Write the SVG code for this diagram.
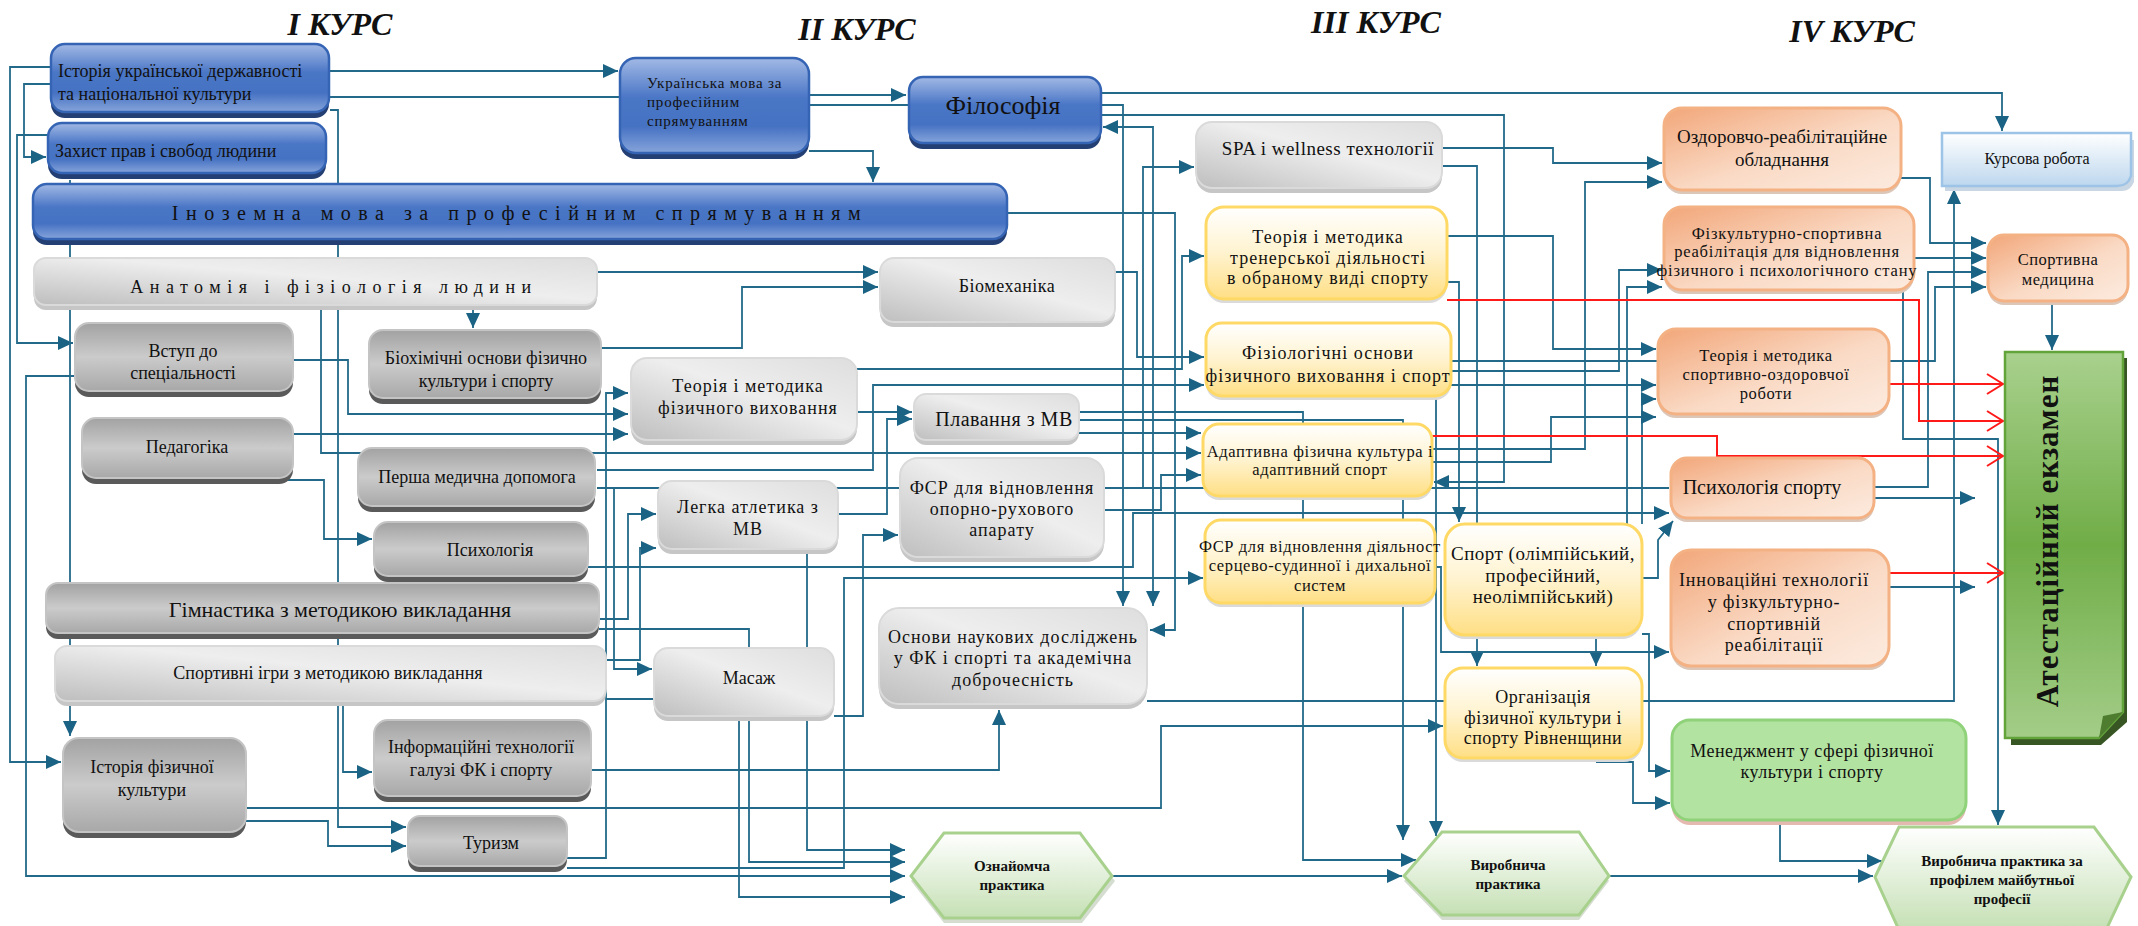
<svg xmlns="http://www.w3.org/2000/svg" width="2138" height="926" viewBox="0 0 2138 926">
<defs>
<style>
.c{fill:none;stroke:#236A8A;stroke-width:1.8}
.r{fill:none;stroke:#FF1A1A;stroke-width:2}
.sB{fill:#243F73}.fB{fill:url(#gB);stroke:#3564B4;stroke-width:2.5}
.sL{fill:#C6C6C6}.fL{fill:url(#gL);stroke:#DADADA;stroke-width:2}
.sD{fill:#5A5A5A}.fD{fill:url(#gD);stroke:#C4C4C4;stroke-width:2}
.sY{fill:#DADADA}.fY{fill:url(#gY);stroke:#FFD966;stroke-width:3}
.sO{fill:#DCC6B8}.fO{fill:url(#gO);stroke:#F4B183;stroke-width:3}
.fG{fill:#B3E3A0;stroke:#8FD27A;stroke-width:3}
.fH{fill:url(#gH);stroke:#A9D18E;stroke-width:3}
.sH{fill:#D5DDD0}
text{font-family:"Liberation Serif","Times New Roman",serif;fill:#111}
.t{font-size:18px;text-anchor:middle}
.l{font-size:18px}
.h{font-size:32px;font-weight:bold;font-style:italic;text-anchor:middle}
.b{font-size:15px;font-weight:bold;text-anchor:middle}
</style>
<linearGradient id="gB" x1="0" y1="0" x2="0" y2="1"><stop offset="0" stop-color="#A2B9E5"/><stop offset="0.42" stop-color="#4A76C6"/><stop offset="0.72" stop-color="#4672C3"/><stop offset="1" stop-color="#86A4DA"/></linearGradient>
<linearGradient id="gL" x1="0" y1="1" x2="1" y2="0"><stop offset="0" stop-color="#BEBEBE"/><stop offset="0.55" stop-color="#EEEEEE"/><stop offset="1" stop-color="#DEDEDE"/></linearGradient>
<linearGradient id="gD" x1="0" y1="0" x2="0" y2="1"><stop offset="0" stop-color="#A2A2A2"/><stop offset="0.5" stop-color="#CBCBCB"/><stop offset="1" stop-color="#A8A8A8"/></linearGradient>
<linearGradient id="gY" x1="0" y1="0" x2="0" y2="1"><stop offset="0" stop-color="#FFFFFF"/><stop offset="0.5" stop-color="#FFF3CF"/><stop offset="1" stop-color="#FFDF85"/></linearGradient>
<linearGradient id="gO" x1="0" y1="0" x2="1" y2="1"><stop offset="0" stop-color="#F2A679"/><stop offset="0.55" stop-color="#FADAC5"/><stop offset="1" stop-color="#FCEBDF"/></linearGradient>
<linearGradient id="gH" x1="0" y1="0" x2="0" y2="1"><stop offset="0" stop-color="#FFFFFF"/><stop offset="1" stop-color="#C5E0B4"/></linearGradient>
<linearGradient id="gA" x1="0" y1="0" x2="0" y2="1"><stop offset="0" stop-color="#A9D18E"/><stop offset="0.5" stop-color="#70AD47"/><stop offset="1" stop-color="#A3CD88"/></linearGradient>
<linearGradient id="gK" x1="0" y1="0" x2="0" y2="1"><stop offset="0" stop-color="#FFFFFF"/><stop offset="1" stop-color="#BDD7EE"/></linearGradient>
<marker id="a" markerUnits="userSpaceOnUse" markerWidth="16" markerHeight="16" viewBox="0 0 16 16" refX="15" refY="8" orient="auto"><path d="M0,1L15,8L0,15z" fill="#1B6385"/></marker>
<marker id="as" markerUnits="userSpaceOnUse" markerWidth="16" markerHeight="16" viewBox="0 0 16 16" refX="15" refY="8" orient="auto-start-reverse"><path d="M0,1L15,8L0,15z" fill="#1B6385"/></marker>
<marker id="ra" markerUnits="userSpaceOnUse" markerWidth="20" markerHeight="22" viewBox="0 0 20 22" refX="18" refY="11" orient="auto"><path d="M2,1L18,11L2,21" fill="none" stroke="#FF1A1A" stroke-width="2"/></marker>
</defs>
<rect width="2138" height="926" fill="#FFFFFF"/>

<g id="titles">
<text class="h" x="340" y="35">I КУРС</text>
<text class="h" x="857" y="40">II КУРС</text>
<text class="h" x="1376" y="33">III КУРС</text>
<text class="h" x="1852" y="42">IV КУРС</text>
</g>

<g id="connectors">
<path class="c" d="M51,67H10V762H61" marker-end="url(#a)"/>
<path class="c" d="M51,84H24V157H46" marker-end="url(#a)"/>
<path class="c" d="M48,135H17V343H73" marker-end="url(#a)"/>
<path class="c" d="M75,376H26V876H905" marker-end="url(#a)"/>
<path class="c" d="M70,180V736" marker-end="url(#a)"/>
<path class="c" d="M329,71H618" marker-end="url(#a)"/>
<path class="c" d="M329,97H621"/>
<path class="c" d="M809,95H906" marker-end="url(#a)"/>
<path class="c" d="M809,105H909"/>
<path class="c" d="M809,151H873V182" marker-end="url(#a)"/>
<path class="c" d="M330,110H338V827H406" marker-end="url(#a)"/>
<path class="c" d="M1101,93H2002V131" marker-end="url(#a)"/>
<path class="c" d="M1101,105H1123V606" marker-end="url(#a)"/>
<path class="c" d="M1101,115H1504V482H1434" marker-end="url(#a)"/>
<path class="c" d="M1153,606V127H1103" marker-start="url(#as)" marker-end="url(#a)"/>
<path class="c" d="M1007,213H1175V630H1150" marker-end="url(#a)"/>
<path class="c" d="M597,272H878" marker-end="url(#a)"/>
<path class="c" d="M601,348H742V287H878" marker-end="url(#a)"/>
<path class="c" d="M473,306V328" marker-end="url(#a)"/>
<path class="c" d="M321,306V453H1201" marker-end="url(#a)"/>
<path class="c" d="M293,360H348V414H628" marker-end="url(#a)"/>
<path class="c" d="M293,434H628" marker-end="url(#a)"/>
<path class="c" d="M270,480H324V539H372" marker-end="url(#a)"/>
<path class="c" d="M567,858H606V393H628" marker-end="url(#a)"/>
<path class="c" d="M597,470H873V385H1204" marker-end="url(#a)"/>
<path class="c" d="M857,412H912" marker-end="url(#a)"/>
<path class="c" d="M838,514H887V419H912" marker-end="url(#a)"/>
<path class="c" d="M857,369H1182V256H1204" marker-end="url(#a)"/>
<path class="c" d="M597,488H1669"/>
<path class="c" d="M599,619H628V514H656" marker-end="url(#a)"/>
<path class="c" d="M606,660H640V548H656" marker-end="url(#a)"/>
<path class="c" d="M599,629H749V862H905" marker-end="url(#a)"/>
<path class="c" d="M614,488V669H652" marker-end="url(#a)"/>
<path class="c" d="M606,699H654"/>
<path class="c" d="M739,718V897H905" marker-end="url(#a)"/>
<path class="c" d="M807,550V850H905" marker-end="url(#a)"/>
<path class="c" d="M834,716H863V535H898" marker-end="url(#a)"/>
<path class="c" d="M567,868H844V578H1203" marker-end="url(#a)"/>
<path class="c" d="M588,567H1133V513H1669" marker-end="url(#a)"/>
<path class="c" d="M591,770H999V710" marker-end="url(#a)"/>
<path class="c" d="M343,705V772H372" marker-end="url(#a)"/>
<path class="c" d="M246,808H1161V726H1443" marker-end="url(#a)"/>
<path class="c" d="M246,821H328V846H406" marker-end="url(#a)"/>
<path class="c" d="M1147,701H1954V189" marker-end="url(#a)"/>
<path class="c" d="M1112,876H1402" marker-end="url(#a)"/>
<path class="c" d="M1609,876H1873" marker-end="url(#a)"/>
<path class="c" d="M1780,822V861H1882" marker-end="url(#a)"/>
<path class="c" d="M1903,292V439H1998V825" marker-end="url(#a)"/>
<path class="c" d="M1642,634H1649V771H1670" marker-end="url(#a)"/>
<path class="c" d="M1596,762H1633V803H1670" marker-end="url(#a)"/>
<path class="c" d="M1596,637V666" marker-end="url(#a)"/>
<path class="c" d="M1442,166H1477V666" marker-end="url(#a)"/>
<path class="c" d="M1442,148H1553V163H1662" marker-end="url(#a)"/>
<path class="c" d="M1432,449H1585V182H1662" marker-end="url(#a)"/>
<path class="c" d="M1447,282H1459V522" marker-end="url(#a)"/>
<path class="c" d="M1447,236H1553V349H1656" marker-end="url(#a)"/>
<path class="c" d="M1451,385H1656" marker-end="url(#a)"/>
<path class="c" d="M1642,524V399H1656" marker-end="url(#a)"/>
<path class="c" d="M1627,524V287H1662" marker-end="url(#a)"/>
<path class="c" d="M1432,462H1551V417H1656" marker-end="url(#a)"/>
<path class="c" d="M1451,371H1619V270H1662" marker-end="url(#a)"/>
<path class="c" d="M1451,361H1935V287H1986" marker-end="url(#a)"/>
<path class="c" d="M1901,178H1930V243H1986" marker-end="url(#a)"/>
<path class="c" d="M1913,258H1986" marker-end="url(#a)"/>
<path class="c" d="M1874,487H1928V272H1986" marker-end="url(#a)"/>
<path class="c" d="M2052,303V350" marker-end="url(#a)"/>
<path class="c" d="M1874,498H1975" marker-end="url(#a)"/>
<path class="c" d="M1888,587H1975" marker-end="url(#a)"/>
<path class="c" d="M1642,578H1658V540L1673,521" marker-end="url(#a)"/>
<path class="c" d="M1435,567H1441V652H1669" marker-end="url(#a)"/>
<path class="c" d="M1436,398V836" marker-end="url(#a)"/>
<path class="c" d="M1079,412H1303V860H1416" marker-end="url(#a)"/>
<path class="c" d="M1079,420H1403V840" marker-end="url(#a)"/>
<path class="c" d="M1079,433H1201" marker-end="url(#a)"/>
<path class="c" d="M1104,510H1161V475H1201" marker-end="url(#a)"/>
<path class="c" d="M1104,488H1143V167H1194" marker-end="url(#a)"/>
<path class="c" d="M1115,272H1137V357H1204" marker-end="url(#a)"/>
<path class="r" d="M1447,300H1919V421H2003" marker-end="url(#ra)"/>
<path class="r" d="M1889,384H2003" marker-end="url(#ra)"/>
<path class="r" d="M1432,436H1717V456H2003" marker-end="url(#ra)"/>
<path class="r" d="M1888,573H2003" marker-end="url(#ra)"/>
</g>

<g id="n-istoriya-ukr"><rect class="sB" x="51" y="50" width="278" height="68" rx="14"/><rect class="fB" x="51" y="44" width="278" height="68" rx="14"/><text class="l" x="58" y="77">Історія української державності</text><text class="l" x="58" y="100">та національної культури</text></g>
<g id="n-zakhyst"><rect class="sB" x="48" y="129" width="278" height="50" rx="14"/><rect class="fB" x="48" y="123" width="278" height="50" rx="14"/><text class="l" x="55" y="157">Захист прав і свобод людини</text></g>
<g id="n-inozemna"><rect class="sB" x="33" y="190" width="974" height="55" rx="14"/><rect class="fB" x="33" y="184" width="974" height="55" rx="14"/><text class="t" x="520" y="220" style="font-size:20px;letter-spacing:7.5px">Іноземна мова за професійним спрямуванням</text></g>
<g id="n-ukr-mova"><rect class="sB" x="620" y="64" width="189" height="95" rx="16"/><rect class="fB" x="620" y="58" width="189" height="95" rx="16"/><text class="l" x="647" y="88" style="font-size:15px;letter-spacing:0.8px">Українська мова за</text><text class="l" x="647" y="107" style="font-size:15px;letter-spacing:0.8px">професійним</text><text class="l" x="647" y="126" style="font-size:15px;letter-spacing:0.8px">спрямуванням</text></g>
<g id="n-filosofiya"><rect class="sB" x="909" y="83" width="192" height="66" rx="14"/><rect class="fB" x="909" y="77" width="192" height="66" rx="14"/><text class="t" x="1003" y="114" style="font-size:26px">Філософія</text></g>
<g id="n-anatomiya"><rect class="sL" x="34" y="263" width="563" height="47" rx="12"/><rect class="fL" x="34" y="258" width="563" height="47" rx="12"/><text class="t" x="334" y="293" style="letter-spacing:6.5px">Анатомія і фізіологія людини</text></g>
<g id="n-biomekhanika"><rect class="sL" x="880" y="263" width="235" height="64" rx="14"/><rect class="fL" x="880" y="258" width="235" height="64" rx="14"/><text class="t" x="1007" y="292" style="letter-spacing:0.5px">Біомеханіка</text></g>
<g id="n-vstup"><rect class="sD" x="75" y="329" width="218" height="68" rx="14"/><rect class="fD" x="75" y="323" width="218" height="68" rx="14"/><text class="t" x="183" y="357">Вступ до</text><text class="t" x="183" y="379">спеціальності</text></g>
<g id="n-biokhimiya"><rect class="sD" x="369" y="336" width="232" height="68" rx="14"/><rect class="fD" x="369" y="330" width="232" height="68" rx="14"/><text class="t" x="486" y="364">Біохімічні основи фізично</text><text class="t" x="486" y="387">культури і спорту</text></g>
<g id="n-tm-fv"><rect class="sL" x="631" y="363" width="226" height="82" rx="16"/><rect class="fL" x="631" y="358" width="226" height="82" rx="16"/><text class="t" x="748" y="392" style="letter-spacing:1px">Теорія і методика</text><text class="t" x="748" y="414" style="letter-spacing:1px">фізичного виховання</text></g>
<g id="n-pedagogika"><rect class="sD" x="82" y="424" width="211" height="60" rx="14"/><rect class="fD" x="82" y="418" width="211" height="60" rx="14"/><text class="t" x="187" y="453">Педагогіка</text></g>
<g id="n-persha-med"><rect class="sD" x="358" y="454" width="237" height="58" rx="14"/><rect class="fD" x="358" y="448" width="237" height="58" rx="14"/><text class="t" x="477" y="483">Перша медична допомога</text></g>
<g id="n-plavannya"><rect class="sL" x="914" y="399" width="165" height="46" rx="12"/><rect class="fL" x="914" y="394" width="165" height="46" rx="12"/><text class="t" x="1004" y="426" style="font-size:20px;letter-spacing:0.5px">Плавання з МВ</text></g>
<g id="n-psykholohiya"><rect class="sD" x="374" y="528" width="214" height="54" rx="14"/><rect class="fD" x="374" y="522" width="214" height="54" rx="14"/><text class="t" x="490" y="556">Психологія</text></g>
<g id="n-lehka"><rect class="sL" x="658" y="486" width="180" height="68" rx="14"/><rect class="fL" x="658" y="481" width="180" height="68" rx="14"/><text class="t" x="748" y="513" style="letter-spacing:1px">Легка атлетика з</text><text class="t" x="748" y="535" style="letter-spacing:1px">МВ</text></g>
<g id="n-fsr-opora"><rect class="sL" x="900" y="463" width="204" height="99" rx="18"/><rect class="fL" x="900" y="458" width="204" height="99" rx="18"/><text class="t" x="1002" y="494" style="letter-spacing:1px">ФСР для відновлення</text><text class="t" x="1002" y="515" style="letter-spacing:1px">опорно-рухового</text><text class="t" x="1002" y="536" style="letter-spacing:1px">апарату</text></g>
<g id="n-himnastyka"><rect class="sD" x="46" y="589" width="553" height="50" rx="12"/><rect class="fD" x="46" y="583" width="553" height="50" rx="12"/><text class="t" x="340" y="617" style="font-size:22px">Гімнастика з методикою викладання</text></g>
<g id="n-sport-ihry"><rect class="sL" x="55" y="651" width="551" height="55" rx="12"/><rect class="fL" x="55" y="646" width="551" height="55" rx="12"/><text class="t" x="328" y="679">Спортивні ігри з методикою викладання</text></g>
<g id="n-masazh"><rect class="sL" x="654" y="653" width="180" height="68" rx="14"/><rect class="fL" x="654" y="648" width="180" height="68" rx="14"/><text class="t" x="749" y="684">Масаж</text></g>
<g id="n-osnovy"><rect class="sL" x="879" y="613" width="268" height="96" rx="20"/><rect class="fL" x="879" y="608" width="268" height="96" rx="20"/><text class="t" x="1013" y="643" style="letter-spacing:1px">Основи наукових  досліджень</text><text class="t" x="1013" y="664" style="letter-spacing:1px">у ФК і спорті та академічна</text><text class="t" x="1013" y="686" style="letter-spacing:1px">доброчесність</text></g>
<g id="n-inform"><rect class="sD" x="374" y="726" width="217" height="76" rx="14"/><rect class="fD" x="374" y="720" width="217" height="76" rx="14"/><text class="t" x="481" y="753">Інформаційні технології</text><text class="t" x="481" y="776">галузі ФК і спорту</text></g>
<g id="n-istoriya-fk"><rect class="sD" x="63" y="744" width="183" height="94" rx="16"/><rect class="fD" x="63" y="738" width="183" height="94" rx="16"/><text class="t" x="152" y="773">Історія фізичної</text><text class="t" x="152" y="796">культури</text></g>
<g id="n-turyzm"><rect class="sD" x="408" y="822" width="159" height="50" rx="12"/><rect class="fD" x="408" y="816" width="159" height="50" rx="12"/><text class="t" x="491" y="849">Туризм</text></g>
<g id="n-oznayomcha"><polygon class="sH" points="944,838 1082,838 1115,881 1082,923 944,923 911,881"/><polygon class="fH" points="944,833 1080,833 1112,876 1080,918 944,918 911,876"/><text class="b" x="1012" y="871">Ознайомча</text><text class="b" x="1012" y="890">практика</text></g>

<g id="n-spa"><rect class="sL" x="1196" y="127" width="246" height="66" rx="16"/><rect class="fL" x="1196" y="122" width="246" height="66" rx="16"/><text class="t" x="1328" y="155" style="font-size:19px;letter-spacing:0.5px">SPA і wellness технології</text></g>
<g id="n-tm-trener"><rect class="sY" x="1206" y="211" width="241" height="92" rx="18"/><rect class="fY" x="1206" y="207" width="241" height="92" rx="18"/><text class="t" x="1328" y="243" style="letter-spacing:1px">Теорія і методика</text><text class="t" x="1328" y="264" style="letter-spacing:1px">тренерської діяльності</text><text class="t" x="1328" y="284" style="letter-spacing:1px">в обраному виді спорту</text></g>
<g id="n-fiziol"><rect class="sY" x="1206" y="327" width="245" height="73" rx="16"/><rect class="fY" x="1206" y="323" width="245" height="73" rx="16"/><text class="t" x="1328" y="359" style="letter-spacing:1px">Фізіологічні основи</text><text class="t" x="1328" y="382" style="letter-spacing:1px">фізичного виховання і спорт</text></g>
<g id="n-adaptyvna"><rect class="sY" x="1203" y="428" width="229" height="72" rx="16"/><rect class="fY" x="1203" y="424" width="229" height="72" rx="16"/><text class="t" x="1320" y="457" style="font-size:16.5px;letter-spacing:0.6px">Адаптивна фізична культура і</text><text class="t" x="1320" y="475" style="font-size:16.5px;letter-spacing:0.6px">адаптивний спорт</text></g>
<g id="n-fsr-sertse"><rect class="sY" x="1205" y="524" width="230" height="83" rx="16"/><rect class="fY" x="1205" y="520" width="230" height="83" rx="16"/><text class="t" x="1320" y="552" style="font-size:16.5px;letter-spacing:0.6px">ФСР для відновлення діяльност</text><text class="t" x="1320" y="571" style="font-size:16.5px;letter-spacing:0.6px">серцево-судинної і дихальної</text><text class="t" x="1320" y="591" style="font-size:16.5px;letter-spacing:0.6px">систем</text></g>
<g id="n-sport"><rect class="sY" x="1445" y="528" width="197" height="111" rx="20"/><rect class="fY" x="1445" y="524" width="197" height="111" rx="20"/><text class="t" x="1543" y="560" style="font-size:19px;letter-spacing:0.5px">Спорт (олімпійський,</text><text class="t" x="1543" y="582" style="font-size:19px;letter-spacing:0.5px">професійний,</text><text class="t" x="1543" y="603" style="font-size:19px;letter-spacing:0.5px">неолімпійський)</text></g>
<g id="n-orhanizatsiya"><rect class="sY" x="1445" y="672" width="197" height="90" rx="18"/><rect class="fY" x="1445" y="668" width="197" height="90" rx="18"/><text class="t" x="1543" y="703" style="letter-spacing:0.5px">Організація</text><text class="t" x="1543" y="724" style="letter-spacing:0.5px">фізичної культури і</text><text class="t" x="1543" y="744" style="letter-spacing:0.5px">спорту Рівненщини</text></g>

<g id="n-ozdorovcho"><rect class="sO" x="1664" y="112" width="237" height="82" rx="18"/><rect class="fO" x="1664" y="108" width="237" height="82" rx="18"/><text class="t" x="1782" y="143" style="font-size:19px">Оздоровчо-реабілітаційне</text><text class="t" x="1782" y="166" style="font-size:19px">обладнання</text></g>
<g id="n-kursova"><path d="M1945,140H2134V182Q2130,192 2120,191H1945Z" fill="#C9D6E3"/><path d="M1942,133H2131V176Q2128,186 2117,186H1942Z" fill="url(#gK)" stroke="#9DC3E6" stroke-width="2.5"/><text class="t" x="2037" y="164" style="font-size:16px">Курсова робота</text></g>
<g id="n-fizkult"><rect class="sO" x="1664" y="211" width="250" height="83" rx="18"/><rect class="fO" x="1664" y="207" width="250" height="83" rx="18"/><text class="t" x="1787" y="239" style="font-size:16.5px;letter-spacing:0.8px">Фізкультурно-спортивна</text><text class="t" x="1787" y="257" style="font-size:16.5px;letter-spacing:0.8px">реабілітація для відновлення</text><text class="t" x="1787" y="276" style="font-size:16.5px;letter-spacing:0.8px">фізичного і психологічного стану</text></g>
<g id="n-sport-med"><rect class="sO" x="1988" y="239" width="140" height="66" rx="16"/><rect class="fO" x="1988" y="235" width="140" height="66" rx="16"/><text class="t" x="2058" y="265" style="font-size:16.5px;letter-spacing:0.5px">Спортивна</text><text class="t" x="2058" y="285" style="font-size:16.5px;letter-spacing:0.5px">медицина</text></g>
<g id="n-tm-sor"><rect class="sO" x="1658" y="333" width="231" height="85" rx="18"/><rect class="fO" x="1658" y="329" width="231" height="85" rx="18"/><text class="t" x="1766" y="361" style="font-size:16.5px;letter-spacing:0.6px">Теорія і методика</text><text class="t" x="1766" y="380" style="font-size:16.5px;letter-spacing:0.6px">спортивно-оздоровчої</text><text class="t" x="1766" y="399" style="font-size:16.5px;letter-spacing:0.6px">роботи</text></g>
<g id="n-psykh-sport"><rect class="sO" x="1671" y="462" width="203" height="60" rx="16"/><rect class="fO" x="1671" y="458" width="203" height="60" rx="16"/><text class="t" x="1762" y="494" style="font-size:20px">Психологія спорту</text></g>
<g id="n-innovats"><rect class="sO" x="1671" y="554" width="218" height="116" rx="20"/><rect class="fO" x="1671" y="550" width="218" height="116" rx="20"/><text class="t" x="1774" y="586" style="letter-spacing:0.8px">Інноваційні технології</text><text class="t" x="1774" y="608" style="letter-spacing:0.8px">у фізкультурно-</text><text class="t" x="1774" y="630" style="letter-spacing:0.8px">спортивній</text><text class="t" x="1774" y="651" style="letter-spacing:0.8px">реабілітації</text></g>
<g id="n-menedzhment"><rect x="1672" y="725" width="294" height="100" rx="18" fill="#E4B9B0"/><rect class="fG" x="1672" y="720" width="294" height="100" rx="18"/><text class="t" x="1812" y="757" style="letter-spacing:0.5px">Менеджмент у сфері фізичної</text><text class="t" x="1812" y="778" style="letter-spacing:0.5px">культури і спорту</text></g>
<g id="n-atestatsiya"><path d="M2011,358H2127V722L2101,745H2011Z" fill="#375623"/><path d="M2005,352H2123V712L2099,738H2005Z" fill="url(#gA)" stroke="#62A33A" stroke-width="2.5"/><path d="M2123,712L2099,738L2103,716Z" fill="#4E7D2F"/><text transform="translate(2058,541) rotate(-90)" style="font-size:31px;font-weight:bold;text-anchor:middle;letter-spacing:1px">Атестаційний екзамен</text></g>
<g id="n-vyrobnycha"><polygon class="sH" points="1442,837 1579,837 1609,881 1579,920 1442,920 1404,881"/><polygon class="fH" points="1442,832 1579,832 1609,876 1579,915 1442,915 1404,876"/><text class="b" x="1508" y="870">Виробнича</text><text class="b" x="1508" y="889">практика</text></g>
<g id="n-vp-profil"><polygon class="fH" points="1899,827 2094,827 2131,877 2106,930 1899,930 1875,877"/><text class="b" x="2002" y="866">Виробнича практика за</text><text class="b" x="2002" y="885">профілем майбутньої</text><text class="b" x="2002" y="904">професії</text></g>
</svg>
